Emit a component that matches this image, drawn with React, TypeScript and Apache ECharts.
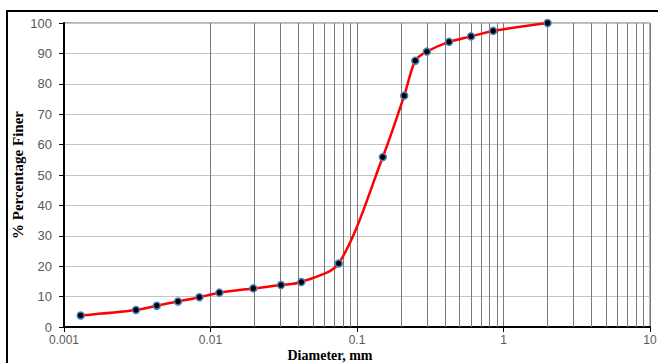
import React, { useEffect, useRef } from "react";
import * as echarts from "echarts";

const diameters = [0.0013, 0.0031, 0.0043, 0.006, 0.0084, 0.0115, 0.0196, 0.0303, 0.0417, 0.075, 0.15, 0.21, 0.25, 0.3, 0.425, 0.6, 0.85, 2.0];
const percentFiner = [3.8, 5.6, 7.0, 8.4, 9.8, 11.3, 12.7, 13.8, 14.8, 20.9, 55.9, 76.1, 87.6, 90.6, 93.8, 95.6, 97.4, 100];
const xTickLabels = ["0.001", "0.01", "0.1", "1", "10"];
const minorGridValues = [
  0.002, 0.003, 0.004, 0.005, 0.006, 0.007, 0.008, 0.009,
  0.02, 0.03, 0.04, 0.05, 0.06, 0.07, 0.08, 0.09,
  0.2, 0.3, 0.4, 0.5, 0.6, 0.7, 0.8, 0.9,
  2, 3, 4, 5, 6, 7, 8, 9,
];
const xTitle = "Diameter, mm";
const yTitle = "% Percentage Finer";

export default function App() {
  const ref = useRef<HTMLDivElement>(null);
  useEffect(() => {
    if (!ref.current) return;
    const chart = echarts.init(ref.current, undefined, { renderer: "svg" });
    const pts = diameters.map((d, i) => [d, percentFiner[i]]);
    chart.setOption({
      animation: false,
      backgroundColor: "#ffffff",
      grid: {
        left: 64,
        top: 23,
        width: 586,
        height: 304,
        show: true,
        borderColor: "#666666",
        borderWidth: 1,
        containLabel: false,
        outerBoundsMode: "none",
      },
      xAxis: {
        type: "log",
        logBase: 10,
        min: 0.001,
        max: 10,
        axisLine: { show: true, onZero: false, lineStyle: { color: "#000", width: 2 } },
        axisTick: { show: true, length: 5, lineStyle: { color: "#000", width: 1 } },
        axisLabel: {
          margin: 7,
          fontFamily: "Liberation Sans",
          fontSize: 12,
          color: "#595959",
          formatter: (v: number) => {
            const idx = Math.round(Math.log10(v)) + 3;
            return xTickLabels[idx] ?? "";
          },
        },
        splitLine: { show: true, lineStyle: { color: "#7a7a7a", width: 1 } },
      },
      yAxis: {
        type: "value",
        min: 0,
        max: 100,
        interval: 10,
        axisLine: { show: true, lineStyle: { color: "#000", width: 2 } },
        axisTick: { show: true, length: 5, lineStyle: { color: "#000", width: 1 } },
        axisLabel: {
          margin: 12,
          fontFamily: "Liberation Sans",
          fontSize: 13,
          color: "#595959",
        },
        splitLine: { show: true, lineStyle: { color: "#c4c4c4", width: 1 } },
      },
      series: [
        {
          type: "line",
          data: pts,
          showSymbol: false,
          symbol: "none",
          lineStyle: { opacity: 0 },
          silent: true,
          z: 1,
          markLine: {
            silent: true,
            symbol: ["none", "none"],
            label: { show: false },
            lineStyle: { color: "#7a7a7a", width: 1, type: "solid" },
            data: minorGridValues.map((v) => ({ xAxis: v })),
          },
        },
        {
          type: "line",
          data: pts,
          smooth: 0.3,
          z: 5,
          symbol: "circle",
          symbolSize: 7,
          itemStyle: { color: "#000000", borderColor: "#4f81bd", borderWidth: 1.5 },
          lineStyle: { color: "#ff0000", width: 2.5 },
        },
      ],
      graphic: [
        {
          type: "rect",
          shape: { x: 7, y: 11, width: 700, height: 400 },
          style: { fill: "none", stroke: "#000", lineWidth: 2 },
          silent: true,
        },
        {
          type: "text",
          x: 330,
          y: 355.5,
          style: {
            text: xTitle,
            font: "bold 14px 'Liberation Serif', 'Times New Roman', serif",
            fill: "#000",
            textAlign: "center",
            textVerticalAlign: "middle",
          },
          silent: true,
        },
        {
          type: "text",
          x: 18,
          y: 175,
          rotation: Math.PI / 2,
          style: {
            text: yTitle,
            font: "bold 15px 'Liberation Serif', 'Times New Roman', serif",
            fill: "#000",
            textAlign: "center",
            textVerticalAlign: "middle",
          },
          silent: true,
        },
      ],
    });
    return () => chart.dispose();
  }, []);
  return (
    <div
      ref={ref}
      style={{ position: "absolute", left: 0, top: 0, width: 658, height: 363 }}
    />
  );
}
